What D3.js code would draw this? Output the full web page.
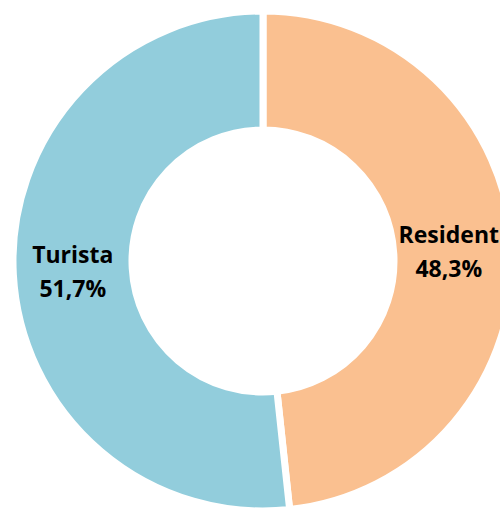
<!DOCTYPE html>
<html><head><meta charset="utf-8">
<script src="https://cdn.jsdelivr.net/npm/d3@7"></script>
<style>html,body{margin:0;padding:0;background:#fff;overflow:hidden}</style>
</head><body>
<svg id="c" width="500" height="509"></svg>
<script>
const categories = ["Resident", "Turista"];
const values = [48.3, 51.7];
const labels = ["48,3%", "51,7%"];
const colors = ["#FAC090", "#92CDDC"];

const svg = d3.select("#c");
const cx = 263, cy = 261, R = 250, r = 131;
const g = svg.append("g").attr("transform", `translate(${cx},${cy})`);
const pie = d3.pie().sort(null).value(d => d)(values);
const arc = d3.arc().innerRadius(r).outerRadius(R);
const labArc = d3.arc().innerRadius(r).outerRadius(R);

g.selectAll("path").data(pie).join("path")
  .attr("d", arc)
  .attr("fill", (d, i) => colors[i])
  .attr("stroke", "#fff")
  .attr("stroke-width", 7)
  .attr("stroke-linejoin", "miter");

const t = g.selectAll("text").data(pie).join("text")
  .attr("transform", d => `translate(${labArc.centroid(d)})`)
  .attr("text-anchor", "middle")
  .attr("font-family", "'Open Sans', sans-serif")
  .attr("font-weight", "bold")
  .attr("font-size", 23)
  .attr("fill", "#000");
t.append("tspan").attr("x", 0).attr("y", -8).text((d, i) => categories[i]);
t.append("tspan").attr("x", 0).attr("y", 26).text((d, i) => labels[i]);

// keep labels inside the frame
t.each(function(d) {
  const b = this.getBBox();
  const c = labArc.centroid(d);
  const right = cx + c[0] + b.x + b.width;
  const shift = right > 499 ? 499 - right : 0;
  d3.select(this).attr("transform", `translate(${c[0] + shift},${c[1]})`);
});
</script>
</body></html>
